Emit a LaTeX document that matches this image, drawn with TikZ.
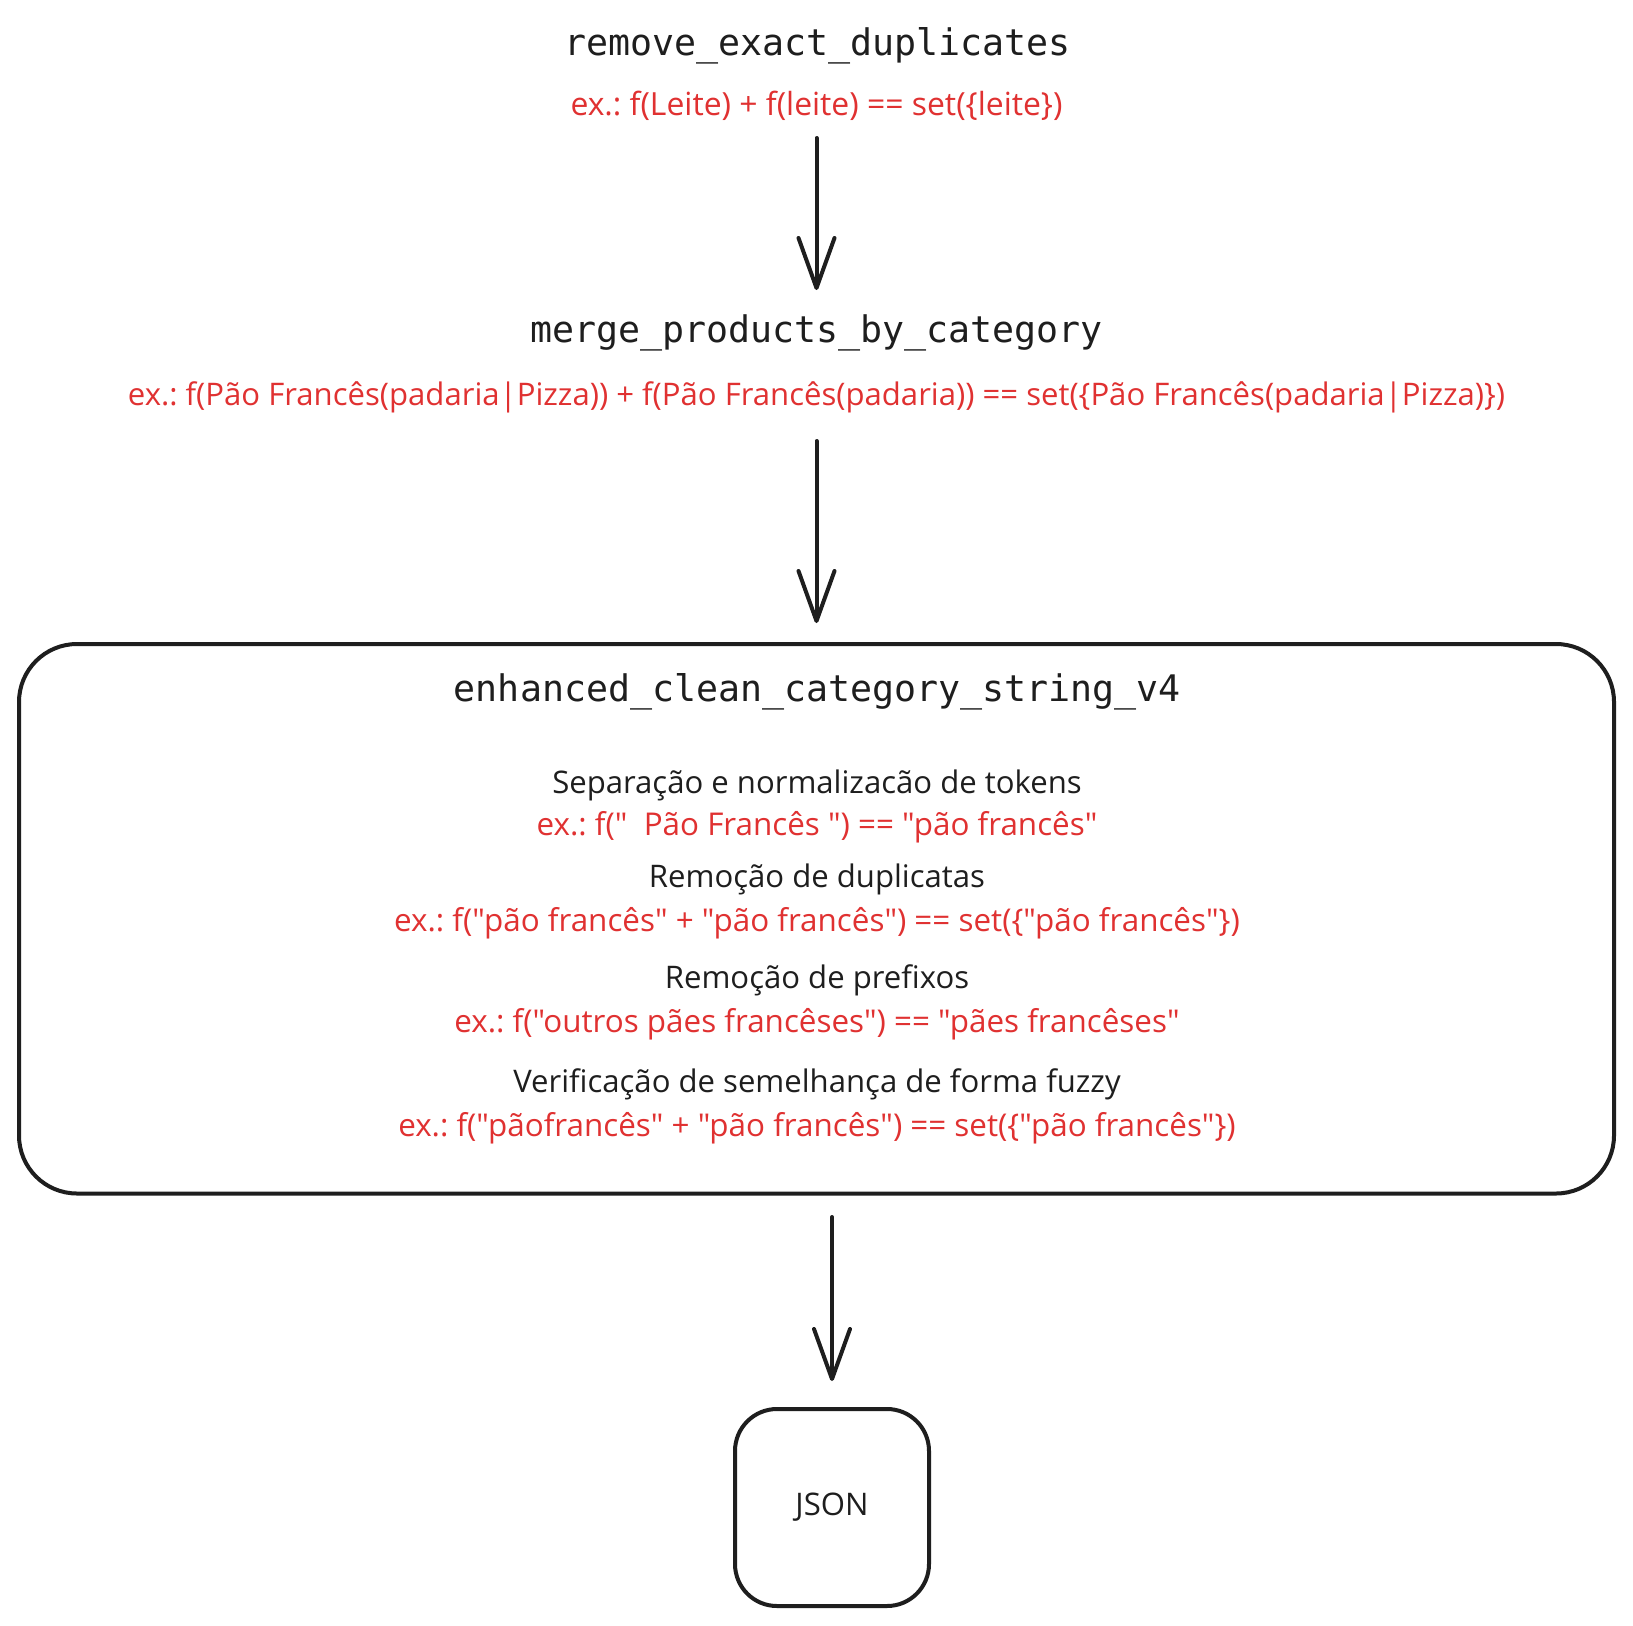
\documentclass[tikz,border=0pt]{standalone}
\usepackage{fontspec}
\setmainfont{Open Sans}[Ligatures=TeXOff]
\newfontfamily\monof{DejaVu Sans Mono}
\usetikzlibrary{arrows.meta,calc}
\definecolor{ink}{HTML}{1E1E1E}
\definecolor{exred}{HTML}{E03131}
\frenchspacing
\begin{document}
\begin{tikzpicture}[x=1pt,y=-1pt,
  title/.style={font=\monof\fontsize{36.6}{40}\selectfont, text=ink, inner sep=0pt, anchor=base},
  extext/.style={font=\frenchspacing\fontsize{31.4}{36}\selectfont, text=exred, inner sep=0pt, anchor=base},
  stepname/.style={font=\frenchspacing\fontsize{31.1}{36}\selectfont, text=ink, inner sep=0pt, anchor=base},
  arr/.style={draw=ink, line width=4pt, line cap=round,
    -{Straight Barb[length=50pt,width=36pt,line width=4pt,round]}},
  frame/.style={draw=ink, line width=4pt, fill=white}
]
\useasboundingbox (0,0) rectangle (1633,1625);
\fill[white] (0,0) rectangle (1633,1625);

\node[title] (t1) at (817.5,55) {remove\_exact\_duplicates};
\node[extext, font=\fontsize{31.9}{36}\selectfont] (r1) at (816.5,115) {ex.: f(Leite) + f(leite) == set(\{leite\})};

\node[title] (t2) at (816.5,342) {merge\_products\_by\_category};
\node[extext, font=\fontsize{31.1}{36}\selectfont] (r2) at (816.5,405) {ex.: f(Pão Francês(padaria|Pizza)) + f(Pão Francês(padaria)) == set(\{Pão Francês(padaria|Pizza)\})};

\node[frame, rounded corners=58pt, minimum width=1595pt, minimum height=549.5pt, inner sep=0pt] (proc) at (816.5,918.75) {};
\node[title] (t3) at (817.5,701) {enhanced\_clean\_category\_string\_v4};

\node[stepname] (s1) at (817,793) {Separação e normalizacão de tokens};
\node[extext] (e1) at (817,835) {ex.: f("\ \ Pão Francês ") == "pão francês"};
\node[stepname] (s2) at (817,887) {Remoção de duplicatas};
\node[extext] (e2) at (817,931) {ex.: f("pão francês" + "pão francês") == set(\{"pão francês"\})};
\node[stepname] (s3) at (817,988) {Remoção de prefixos};
\node[extext] (e3) at (817,1032) {ex.: f("outros pães francêses") == "pães francêses"};
\node[stepname] (s4) at (817,1092) {Verificação de semelhança de forma fuzzy};
\node[extext] (e4) at (817,1136) {ex.: f("pãofrancês" + "pão francês") == set(\{"pão francês"\})};

\node[frame, rounded corners=42pt, minimum width=194pt, minimum height=197pt, inner sep=0pt,
  font=\fontsize{31.1}{36}\selectfont, text=ink] (json) at (832,1507.5) {JSON};

\draw[arr] ([yshift=-23pt]r1.base) -- ([yshift=52pt]t2.base);
\draw[arr] ([yshift=-36pt]r2.base) -- ([yshift=19pt]proc.north);
\draw[arr] ($(proc.south -| json.north)+(0,21.5)$) -- ($(json.north)+(0,-26)$);
\end{tikzpicture}
\end{document}
